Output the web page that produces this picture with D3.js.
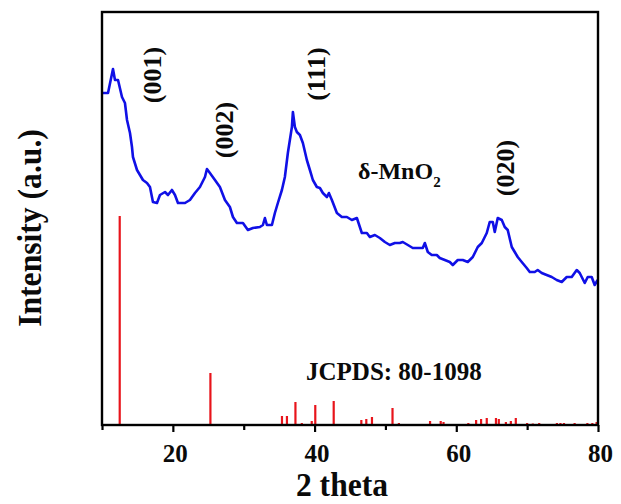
<!DOCTYPE html>
<html><head><meta charset="utf-8">
<script src="https://cdn.jsdelivr.net/npm/d3@7"></script>
<style>body{margin:0;background:#fff}svg{display:block}</style>
</head><body>
<script>
// measured XRD pattern (2θ, intensity a.u.)
const twoTheta = [10.0,10.85,11.55,11.83,12.26,12.82,13.24,13.53,13.95,14.23,14.37,14.94,15.36,15.78,16.35,16.77,17.19,17.76,18.18,18.89,19.31,19.87,20.30,20.72,21.71,22.41,23.12,23.82,24.53,24.81,25.23,25.94,26.64,27.35,28.05,28.48,29.04,29.89,30.59,31.30,32.28,32.71,32.99,33.27,33.98,34.40,34.82,35.39,35.81,36.23,36.80,36.94,37.22,37.50,37.93,38.35,38.91,39.34,39.76,40.32,40.75,41.17,41.74,42.02,42.44,43.15,43.85,44.56,45.26,45.97,46.67,47.38,47.80,48.51,49.21,49.92,50.62,51.33,52.03,52.45,53.16,53.86,54.57,55.27,55.56,55.98,56.54,57.25,57.67,58.38,59.08,59.51,60.21,60.92,61.62,62.33,63.03,63.60,64.30,64.72,65.15,65.43,65.85,66.42,66.84,67.26,67.83,68.25,68.67,69.24,69.94,70.37,71.07,71.49,72.06,72.76,73.47,74.17,74.88,75.59,76.29,77.00,77.42,78.13,78.55,79.11,79.53,79.95];
const intensity = [332,332,356,345,345,328,322,305,292,278,268,255,250,245,242,238,223,222,230,233,230,235,230,222,222,225,232,238,248,256,252,245,238,225,218,208,202,202,195,197,198,200,207,200,200,212,222,235,248,272,298,313,298,293,290,282,265,255,245,238,237,232,228,232,225,212,208,208,205,207,192,192,188,190,187,183,180,182,182,183,180,177,177,177,182,173,170,170,167,165,163,160,165,165,163,168,178,182,192,203,203,193,207,205,198,195,178,173,168,163,157,153,153,155,152,150,148,145,143,148,148,155,152,142,148,148,140,145];
// JCPDS 80-1098 reference lines
const refPos = [12.5,25.3,35.4,36.1,37.3,38.2,39.6,40.1,42.7,46.6,47.3,48.1,51.0,51.9,56.3,57.8,58.2,61.7,62.8,63.5,64.3,65.6,66.0,67.0,67.7,68.4,70.0,70.8,71.7,74.2,74.7,75.2,76.7,78.5,79.2,79.8];
const refInt = [209,52,9,9,23,2,4,20,24,5,6,8,17,2,4,4,3,2,5,6,7,7,6,3,4,7,2,1.5,2,2,2,2,2,2,2,3];
const xTicks = [20,40,60,80];
const xMinor = [10,30,50,70];
const peakLabels = ["(001)","(002)","(111)","(020)"];
const peakLabelAt = [18.3,28.5,41.5,68.1];
</script>
<script>
const W=621,H=504;
const m={l:102,r:598,t:12,b:425};
const svg=d3.select("body").append("svg").attr("width",W).attr("height",H);
const x=d3.scaleLinear().domain([10,80]).range([m.l,m.r]);
const y=d3.scaleLinear().domain([0,413]).range([m.b,m.t]);
const font="'Liberation Serif','Times New Roman',serif";
const ink="#0a0a0a";

// reference sticks
svg.append("g").selectAll("line").data(refPos).join("line")
  .attr("x1",d=>x(d)).attr("x2",d=>x(d))
  .attr("y1",y(0)).attr("y2",(d,i)=>y(refInt[i]))
  .attr("stroke","#e8141b").attr("stroke-width",2.2);

// pattern line
const pts=twoTheta.map((t,i)=>[t,intensity[i]]);
svg.append("path").datum(pts)
  .attr("d",d3.line().x(d=>x(d[0])).y(d=>y(d[1])))
  .attr("fill","none").attr("stroke","#1010e6").attr("stroke-width",2.6).attr("stroke-linejoin","round");

// frame
svg.append("rect").attr("x",m.l).attr("y",m.t).attr("width",m.r-m.l).attr("height",m.b-m.t)
  .attr("fill","none").attr("stroke","#000").attr("stroke-width",2.4);

// x axis
const ax=svg.append("g").attr("transform",`translate(0,${m.b})`)
  .call(d3.axisBottom(x).tickValues(xTicks).tickSize(7).tickFormat(d3.format("d")));
ax.select(".domain").remove();
ax.selectAll(".tick line").attr("stroke","#000").attr("stroke-width",2.2);
ax.selectAll(".tick text").attr("font-family",font).attr("font-weight","bold")
  .attr("font-size",25).attr("fill",ink).attr("y",37).attr("dy",0).attr("dx",2);
const axm=svg.append("g").attr("transform",`translate(0,${m.b})`)
  .call(d3.axisBottom(x).tickValues(xMinor).tickSize(5).tickFormat(""));
axm.select(".domain").remove();
axm.selectAll(".tick line").attr("stroke","#000").attr("stroke-width",2.2);

// axis titles
svg.append("text").attr("transform","translate(342,496) scale(0.93,1)").attr("text-anchor","middle")
  .attr("font-family",font).attr("font-weight","bold").attr("font-size",34).attr("fill",ink).text("2 theta");
svg.append("text").attr("transform","translate(41,228) rotate(-90) scale(0.93,1)").attr("text-anchor","middle")
  .attr("font-family",font).attr("font-weight","bold").attr("font-size",34).attr("fill",ink).text("Intensity (a.u.)");

// peak labels (rotated)
const lblY=[75,130,74,168];
peakLabels.forEach((t,i)=>{
  svg.append("text").attr("transform",`translate(${x(peakLabelAt[i])},${lblY[i]}) rotate(-90)`)
    .attr("text-anchor","middle").attr("font-family",font).attr("font-weight","bold")
    .attr("font-size",26).attr("fill",ink).text(t);
});

// phase label
const ph=svg.append("text").attr("x",358).attr("y",179)
  .attr("font-family",font).attr("font-weight","bold").attr("font-size",24).attr("fill",ink);
ph.append("tspan").text("δ-MnO");
ph.append("tspan").attr("font-size",15).attr("dy",8).text("2");

svg.append("text").attr("x",306).attr("y",380)
  .attr("font-family",font).attr("font-weight","bold").attr("font-size",25).attr("fill",ink).text("JCPDS: 80-1098");
</script>
</body></html>
